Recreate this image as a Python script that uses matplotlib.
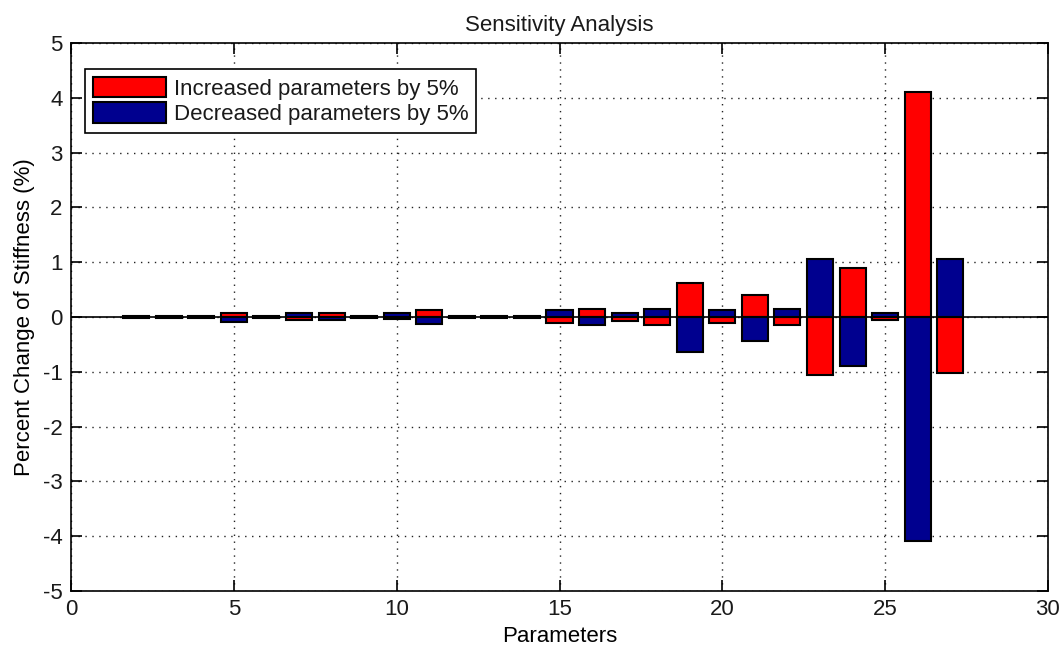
import numpy as np
import matplotlib
matplotlib.use('Agg')
import matplotlib.pyplot as plt

# --- donnees ---
params = list(range(2, 28))
increased = [0.01, 0.01, 0.01, 0.07, 0.01, -0.06, 0.07, 0.01, -0.03,
             0.12, 0.01, 0.01, 0.01,
             -0.11, 0.15, -0.07, -0.15, 0.62, -0.11, 0.41, -0.15,
             -1.05, 0.90, -0.05, 4.10, -1.03]
decreased = [-0.01, -0.01, -0.01, -0.09, -0.01, 0.07, -0.06, -0.01, 0.07,
             -0.12, -0.01, -0.01, -0.01,
             0.12, -0.15, 0.07, 0.15, -0.64, 0.12, -0.43, 0.15,
             1.05, -0.90, 0.08, -4.09, 1.06]
labels = ['Increased parameters by 5%', 'Decreased parameters by 5%']

plt.rcParams['font.family'] = ['Liberation Sans', 'DejaVu Sans']
plt.rcParams['font.size'] = 16
plt.rcParams['axes.unicode_minus'] = False
plt.rcParams['text.color'] = '#1a1a1a'
plt.rcParams['xtick.labelcolor'] = '#1a1a1a'
plt.rcParams['ytick.labelcolor'] = '#1a1a1a'

fig = plt.figure(figsize=(10.62, 6.52), dpi=100)
ax = fig.add_axes([0.0669, 0.0936, 0.9199, 0.8404])

ax.bar(params, increased, width=0.8, color='#FF0000', edgecolor='black',
       linewidth=1.5, label=labels[0], zorder=3)
ax.bar(params, decreased, width=0.8, color='#00008F', edgecolor='black',
       linewidth=1.5, label=labels[1], zorder=3)
ax.axhline(0, color='black', linewidth=1.2, zorder=4)

ax.set_xlim(0, 30)
ax.set_ylim(-5, 5)
ax.set_xticks(np.arange(0, 31, 5))
ax.set_yticks(np.arange(-5, 6, 1))
ax.grid(True, color='#222222', linestyle=(0, (1, 4)), linewidth=1, zorder=0)
ax.tick_params(direction='in', length=8, width=1.2, top=True, right=True,
               labelsize=16, pad=6)
for s in ax.spines.values():
    s.set_linewidth(1.2)

ax.set_title('Sensitivity Analysis', fontsize=16, pad=9)
ax.set_xlabel('Parameters', fontsize=16, labelpad=4)
ax.set_ylabel('Percent Change of Stiffness (%)', fontsize=16, labelpad=6)

leg = ax.legend(loc='upper left', bbox_to_anchor=(14 / 977, 1 - 26 / 548),
                borderaxespad=0, fancybox=False, framealpha=1,
                edgecolor='black', fontsize=16, handlelength=3.3,
                handleheight=1.05, handletextpad=0.35, labelspacing=0.12,
                borderpad=0.35)
leg.get_frame().set_linewidth(1.2)

fig.savefig('out.png', dpi=100)
